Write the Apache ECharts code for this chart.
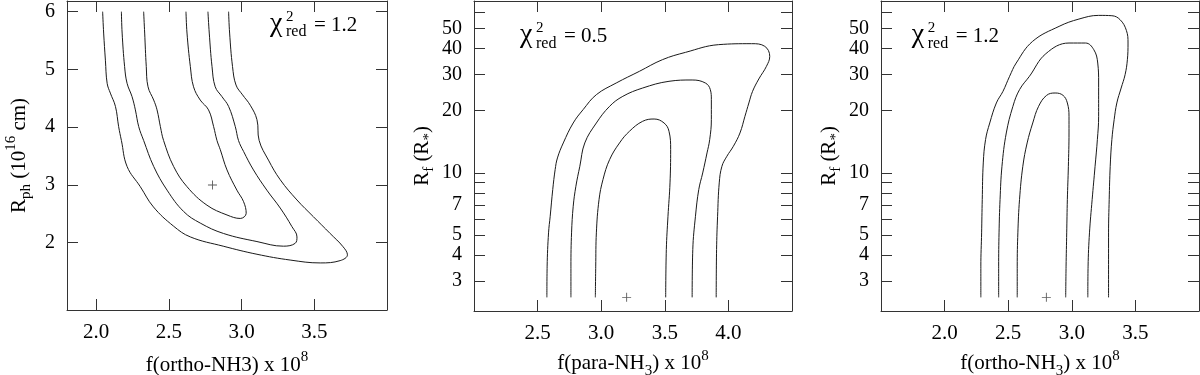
<!DOCTYPE html>
<html>
<head>
<meta charset="utf-8">
<script src="https://cdn.jsdelivr.net/npm/echarts@6.0.0/dist/echarts.min.js"></script>
<style>
  html, body { margin: 0; padding: 0; background: #fff; }
  #chart { width: 1200px; height: 375px; }
</style>
</head>
<body>
<div id="chart"></div>
<script>
// panel 1: f(ortho-NH3) vs R_ph, three contour levels
const p1Outer = [[2.045,6.0],[2.052,5.63],[2.064,5.16],[2.076,4.76],[2.098,4.59],[2.133,4.36],[2.155,4.01],[2.174,3.77],[2.213,3.32],[2.304,2.97],[2.394,2.62],[2.531,2.29],[2.648,2.10],[2.874,1.94],[3.106,1.80],[3.334,1.70],[3.541,1.65],[3.678,1.69],[3.728,1.79],[3.698,1.93],[3.609,2.16],[3.494,2.45],[3.381,2.74],[3.266,3.09],[3.185,3.43],[3.121,3.77],[3.106,4.13],[3.060,4.38],[3.007,4.56],[2.962,4.73],[2.938,5.05],[2.918,5.63],[2.911,6.0]];
const p1Mid = [[2.174,6.0],[2.179,5.63],[2.196,5.05],[2.213,4.76],[2.247,4.53],[2.270,4.30],[2.293,4.01],[2.327,3.77],[2.396,3.32],[2.488,2.91],[2.602,2.54],[2.716,2.34],[2.876,2.16],[3.106,2.02],[3.288,1.94],[3.369,1.99],[3.381,2.10],[3.346,2.28],[3.266,2.60],[3.174,2.91],[3.082,3.26],[3.014,3.58],[2.979,3.77],[2.957,4.01],[2.911,4.36],[2.865,4.53],[2.819,4.70],[2.797,5.05],[2.778,5.63],[2.769,6.0]];
const p1Inner = [[2.327,6.0],[2.334,5.63],[2.345,5.05],[2.357,4.70],[2.396,4.47],[2.419,4.30],[2.442,4.01],[2.464,3.77],[2.533,3.32],[2.625,2.97],[2.762,2.65],[2.900,2.48],[2.991,2.42],[3.032,2.51],[3.014,2.71],[2.968,2.91],[2.900,3.26],[2.854,3.61],[2.831,3.77],[2.808,4.01],[2.773,4.30],[2.716,4.47],[2.670,4.70],[2.648,5.05],[2.625,5.63],[2.618,6.0]];
const p1Best = [[2.8, 3.0]];

// panel 2: f(para-NH3) vs R_f (log)
const p2Outer = [[2.573,2.5],[2.575,3.54],[2.586,5.13],[2.599,6.17],[2.619,8.31],[2.638,10.38],[2.656,11.82],[2.702,13.97],[2.780,17.45],[2.858,20.25],[2.962,23.92],[3.118,27.24],[3.300,31.02],[3.481,35.32],[3.663,38.33],[3.923,41.76],[4.182,42.22],[4.286,40.99],[4.325,36.65],[4.299,32.80],[4.239,28.49],[4.190,24.83],[4.161,21.81],[4.130,18.79],[4.091,15.61],[4.039,13.46],[3.988,12.04],[3.949,10.77],[3.928,8.95],[3.915,6.17],[3.907,4.26],[3.904,2.5]];
const p2Mid = [[2.762,2.5],[2.762,3.54],[2.767,5.13],[2.780,6.90],[2.801,8.62],[2.832,10.77],[2.871,13.97],[2.962,17.45],[3.066,21.01],[3.170,23.48],[3.326,25.76],[3.533,27.76],[3.715,28.17],[3.819,27.24],[3.858,25.29],[3.866,22.63],[3.866,18.11],[3.853,14.50],[3.832,12.50],[3.798,10.0],[3.767,8.31],[3.741,6.17],[3.720,4.26],[3.715,2.5]];
const p2Inner = [[2.954,2.5],[2.957,3.54],[2.962,5.13],[2.983,7.43],[3.014,9.29],[3.066,11.60],[3.144,13.97],[3.222,15.91],[3.326,17.78],[3.416,18.24],[3.494,17.45],[3.533,15.91],[3.546,12.97],[3.541,8.95],[3.525,6.17],[3.512,4.26],[3.507,2.5]];
const p2Best = [[3.2, 2.5]];

// panel 3: f(ortho-NH3) vs R_f (log)
const p3Outer = [[2.285,2.5],[2.285,3.54],[2.291,5.13],[2.296,7.43],[2.304,11.18],[2.322,14.50],[2.355,17.45],[2.407,21.81],[2.459,24.83],[2.511,29.35],[2.563,34.03],[2.692,43.33],[2.900,51.2],[3.056,55.54],[3.211,57.86],[3.315,57.65],[3.380,55.13],[3.429,48.97],[3.442,42.53],[3.437,35.32],[3.419,29.89],[3.388,25.76],[3.354,21.81],[3.333,18.11],[3.315,14.50],[3.302,10.77],[3.294,7.43],[3.289,5.13],[3.289,2.5]];
const p3Mid = [[2.425,2.5],[2.425,3.54],[2.428,5.13],[2.436,7.43],[2.451,10.77],[2.485,15.61],[2.537,21.01],[2.589,25.29],[2.667,29.35],[2.796,37.76],[2.978,42.53],[3.108,42.53],[3.173,39.49],[3.204,34.03],[3.211,27.24],[3.211,18.79],[3.201,14.50],[3.183,10.77],[3.160,7.43],[3.139,5.13],[3.128,3.54],[3.126,2.5]];
const p3Inner = [[2.571,2.5],[2.571,3.54],[2.576,5.13],[2.589,7.43],[2.615,10.77],[2.649,13.97],[2.693,17.45],[2.739,21.01],[2.802,23.74],[2.869,24.37],[2.931,23.74],[2.965,21.81],[2.978,18.79],[2.978,15.61],[2.973,10.77],[2.965,7.43],[2.960,5.13],[2.955,3.54],[2.952,2.5]];
const p3Best = [[2.8, 2.5]];

// ticks and labels
const p1XTicks = [2.0, 2.5, 3.0, 3.5];
const p1YTicks = [2, 3, 4, 5, 6];
const p2XTicks = [2.5, 3.0, 3.5, 4.0];
const p3XTicks = [2.0, 2.5, 3.0, 3.5];
const rfTicks = [3, 4, 5, 6, 7, 8, 9, 10, 20, 30, 40, 50, 60];
const rfLabels = [3, 4, 5, 7, 10, 20, 30, 40, 50];
const chiValues = ['1.2', '0.5', '1.2'];

const FONT = '"Liberation Serif", "Times New Roman", serif';
const FRAME = '#333';
const INK = '#1a1a1a';
const lg = v => Math.log10(v);

const nameStyle = {
  color: '#000', fontFamily: FONT, fontSize: 21,
  rich: {
    m: { fontFamily: FONT, fontSize: 21, lineHeight: 30, verticalAlign: 'middle', color: '#000' },
    s: { fontFamily: FONT, fontSize: 15, lineHeight: 15, verticalAlign: 'bottom', color: '#000' },
    p: { fontFamily: FONT, fontSize: 15, lineHeight: 15, verticalAlign: 'top', color: '#000' }
  }
};

function tickOf(values) {
  return { show: true, inside: true, length: 11, customValues: values, lineStyle: { color: FRAME, width: 1 } };
}
const lineOf = { show: true, onZero: false, lineStyle: { color: FRAME, width: 1 } };

function xAxes(gridIndex, min, max, ticks, name, gap) {
  return [
    { type: 'value', gridIndex, position: 'bottom', min, max, splitLine: { show: false },
      axisLine: lineOf, axisTick: tickOf(ticks),
      axisLabel: { customValues: ticks, margin: 12, hideOverlap: false, formatter: v => v.toFixed(1), color: '#000', fontFamily: FONT, fontSize: 21 },
      name, nameLocation: 'middle', nameGap: gap, nameTextStyle: nameStyle },
    { type: 'value', gridIndex, position: 'top', min, max, splitLine: { show: false },
      axisLine: lineOf, axisTick: tickOf(ticks), axisLabel: { show: false } }
  ];
}

function yAxes(gridIndex, min, max, ticks, labels, fmt, name, gap) {
  return [
    { type: 'value', gridIndex, position: 'left', min, max, splitLine: { show: false },
      axisLine: lineOf, axisTick: tickOf(ticks),
      axisLabel: { customValues: labels, margin: 12, hideOverlap: false, lineHeight: 14, formatter: fmt, color: '#000', fontFamily: FONT, fontSize: 20 },
      name, nameLocation: 'middle', nameRotate: 90, nameGap: gap, nameTextStyle: nameStyle },
    { type: 'value', gridIndex, position: 'right', min, max, splitLine: { show: false },
      axisLine: lineOf, axisTick: tickOf(ticks), axisLabel: { show: false } }
  ];
}

const logFmt = v => String(Math.round(Math.pow(10, v)));

function contour(data, axis, isLog) {
  return {
    type: 'line', xAxisIndex: axis, yAxisIndex: axis, showSymbol: false, smooth: 0.4,
    data: isLog ? data.map(d => [d[0], lg(d[1])]) : data,
    lineStyle: { color: INK, width: 1 }, silent: true, animation: false
  };
}
function best(data, axis, isLog) {
  return {
    type: 'scatter', xAxisIndex: axis, yAxisIndex: axis, symbolSize: 9,
    symbol: 'path://M0,4.5H10V5.5H0Z M4.5,0H5.5V10H4.5Z',
    data: isLog ? data.map(d => [d[0], lg(d[1])]) : data,
    itemStyle: { color: '#333' }, silent: true, animation: false
  };
}

function chi(x0, base, value) {
  const t = (text, x, y, size) => ({ type: 'text', x, y, silent: true,
    style: { text, fill: '#000', font: size + 'px ' + FONT, verticalAlign: 'middle', align: 'left' } });
  return [
    t('χ', x0, base - 8.5, 28),
    t('2', x0 + 16, base - 15, 15),
    t('red', x0 + 16, base + 0.3, 16),
    t('= ' + value, x0 + 44, base - 6.4, 21)
  ];
}

const gridBase = { outerBoundsMode: 'none', containLabel: false };

const option = {
  backgroundColor: '#fff',
  animation: false,
  grid: [
    Object.assign({ left: 67, top: 1, width: 320, height: 309 }, gridBase),
    Object.assign({ left: 474, top: 1, width: 318, height: 310 }, gridBase),
    Object.assign({ left: 881, top: 1, width: 318, height: 310 }, gridBase)
  ],
  xAxis: [
    ...xAxes(0, 1.8, 4.0, p1XTicks, '{m|f(ortho-NH3) x 10}{p|8}', 40),
    ...xAxes(1, 2.0, 4.5, p2XTicks, '{m|f(para-NH}{s|3}{m|) x 10}{p|8}', 30),
    ...xAxes(2, 1.5, 4.0, p3XTicks, '{m|f(ortho-NH}{s|3}{m|) x 10}{p|8}', 30)
  ],
  yAxis: [
    ...yAxes(0, 0.835, 6.185, p1YTicks, p1YTicks, v => String(v), '{m|R}{s|ph}{m| (10}{p|16}{m| cm)}', 33),
    ...yAxes(1, 0.332, 1.832, rfTicks.map(lg), rfLabels.map(lg), logFmt, '{m|R}{s|f}{m| (R}{s|*}{m|)}', 37),
    ...yAxes(2, 0.332, 1.832, rfTicks.map(lg), rfLabels.map(lg), logFmt, '{m|R}{s|f}{m| (R}{s|*}{m|)}', 37)
  ],
  series: [
    contour(p1Outer, 0, false), contour(p1Mid, 0, false), contour(p1Inner, 0, false), best(p1Best, 0, false),
    contour(p2Outer, 2, true), contour(p2Mid, 2, true), contour(p2Inner, 2, true), best(p2Best, 2, true),
    contour(p3Outer, 4, true), contour(p3Mid, 4, true), contour(p3Inner, 4, true), best(p3Best, 4, true)
  ],
  graphic: [
    ...chi(270, 31.7, chiValues[0]),
    ...chi(520, 43.3, chiValues[1]),
    ...chi(911.7, 43.3, chiValues[2])
  ]
};

echarts.init(document.getElementById('chart'), null, { renderer: 'canvas' }).setOption(option);
</script>
</body>
</html>
